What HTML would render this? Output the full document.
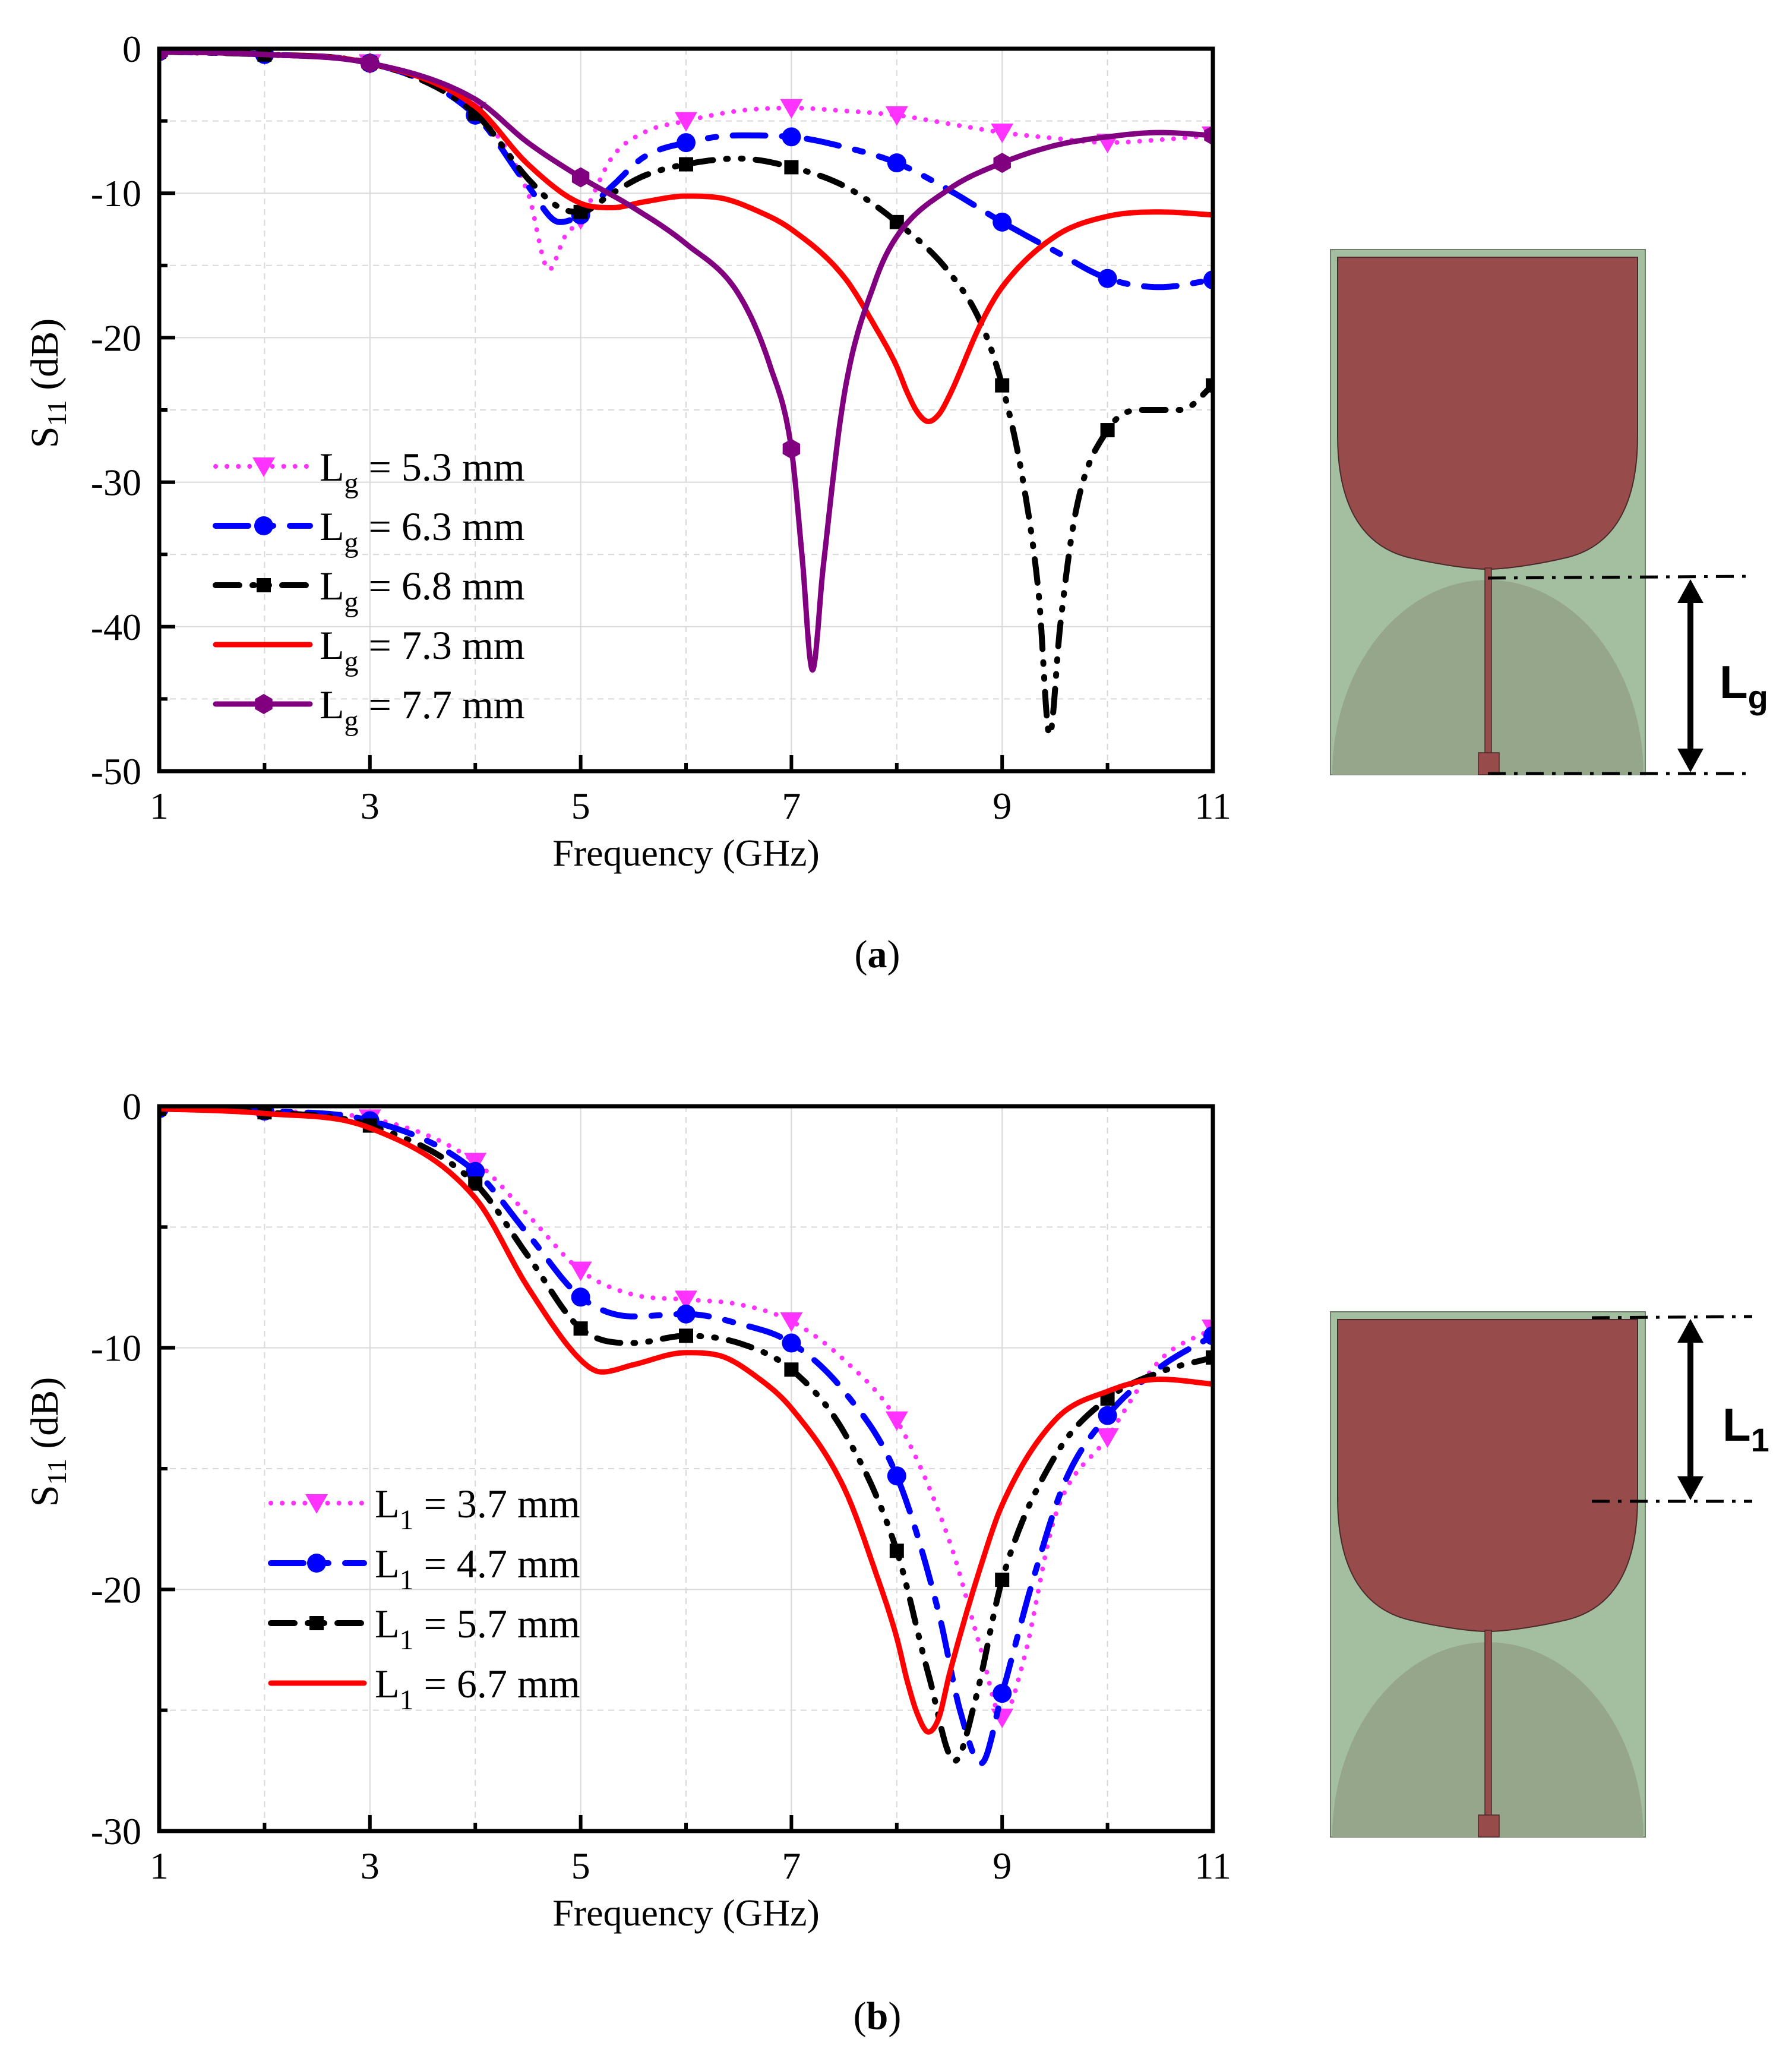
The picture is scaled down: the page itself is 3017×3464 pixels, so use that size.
<!DOCTYPE html>
<html><head><meta charset="utf-8">
<style>
html,body{margin:0;padding:0;background:#fff;}
svg{display:block;}
text{font-family:"Liberation Serif",serif;fill:#000;}
.sans{font-family:"Liberation Sans",sans-serif;font-weight:bold;}
</style></head>
<body>
<svg id="fig" width="3017" height="3464" viewBox="0 0 3017 3464" xmlns="http://www.w3.org/2000/svg">
<defs>
<clipPath id="clipA"><rect x="268" y="82" width="1774" height="1216"/></clipPath>
<clipPath id="clipB"><rect x="268" y="1862" width="1774" height="1220"/></clipPath>
<g id="antenna">
<rect x="0" y="0" width="530" height="884" fill="#a3bfa0" stroke="#6d7f69" stroke-width="2"/>
<path d="M3,884 A262,328 0 0 1 527,884 Z" fill="#96a68a"/>
<path d="M12,13 H517 V313 C517,440 470,500 400,518 C350,530 300,537 270,538 H260 C230,537 180,530 130,518 C60,500 12,440 12,313 Z" fill="#984b4b" stroke="#4a2a2a" stroke-width="2"/>
<rect x="260" y="536" width="11" height="312" fill="#984b4b" stroke="#4a2a2a" stroke-width="1.5"/>
<rect x="249" y="847" width="35" height="37" fill="#984b4b" stroke="#4a2a2a" stroke-width="1.5"/>
</g>
</defs>
<g id="chartA"></g>
<g id="chartB"></g>

<g>
<use href="#antenna" x="2240" y="420"/>
<line x1="2505" y1="973" x2="2950" y2="970" stroke="#000" stroke-width="5" stroke-dasharray="30 14 6 14"/>
<line x1="2505" y1="1302" x2="2950" y2="1302" stroke="#000" stroke-width="5" stroke-dasharray="30 14 6 14"/>
<line x1="2846" y1="1010" x2="2846" y2="1265" stroke="#000" stroke-width="10"/>
<polygon points="2846,975 2824,1015 2868,1015" fill="#000"/>
<polygon points="2846,1300 2824,1260 2868,1260" fill="#000"/>
<text x="2895" y="1175" class="sans" font-size="78">L<tspan font-size="56" dy="18">g</tspan></text>
</g>
<g>
<use href="#antenna" x="2240" y="2208"/>
<line x1="2680" y1="2218" x2="2950" y2="2216" stroke="#000" stroke-width="5" stroke-dasharray="30 14 6 14"/>
<line x1="2680" y1="2527" x2="2950" y2="2527" stroke="#000" stroke-width="5" stroke-dasharray="30 14 6 14"/>
<line x1="2846" y1="2255" x2="2846" y2="2490" stroke="#000" stroke-width="10"/>
<polygon points="2846,2220 2824,2260 2868,2260" fill="#000"/>
<polygon points="2846,2525 2824,2485 2868,2485" fill="#000"/>
<text x="2900" y="2425" class="sans" font-size="78">L<tspan font-size="56" dy="18">1</tspan></text>
</g>

<text x="1477" y="1628" font-size="66" text-anchor="middle">(<tspan font-weight="bold">a</tspan>)</text>
<text x="1477" y="3415" font-size="66" text-anchor="middle">(<tspan font-weight="bold">b</tspan>)</text>
</svg>
<script>
// ---- data: chart a ----
const aX1 = [1,2,3,4,4.5,4.7,4.85,5,5.3,5.6,6,6.5,7,7.5,8,8.5,9,9.5,10,10.5,11];
const aY1 = [-0.2,-0.4,-1,-4.3,-10,-15.3,-13,-11.8,-7.5,-5.8,-5,-4.3,-4.1,-4.3,-4.6,-5.2,-5.8,-6.2,-6.5,-6.3,-6];
const aX2 = [1,2,3,4,4.5,4.8,5,5.3,5.6,6,6.5,7,7.5,8,8.5,9,9.5,10,10.5,11];
const aY2 = [-0.2,-0.4,-1,-4.6,-9.5,-12,-11.5,-9.5,-7.5,-6.5,-6,-6.1,-6.8,-7.9,-9.8,-12,-14,-15.9,-16.5,-16];
const aX3 = [1,2,3,4,4.5,4.8,5,5.3,5.6,6,6.5,7,7.5,8,8.5,8.8,9,9.2,9.35,9.45,9.55,9.7,10,10.3,10.7,11];
const aY3 = [-0.2,-0.4,-1,-4.5,-9,-11,-11.3,-10,-8.8,-8,-7.6,-8.2,-9.5,-12,-15.5,-19,-23.3,-30,-38,-47.5,-40,-32,-26.4,-25,-25,-23.3];
const aX4 = [1,2,3,4,4.5,5,5.3,5.6,6,6.3,6.7,7,7.5,7.8,8,8.1,8.2,8.3,8.4,8.5,8.8,9,9.5,10,10.5,11];
const aY4 = [-0.2,-0.4,-1,-4,-8,-10.7,-11,-10.6,-10.2,-10.3,-11.3,-12.5,-15.8,-19.3,-22,-23.8,-25.2,-25.8,-25.3,-24,-19,-16.5,-13,-11.6,-11.3,-11.5];
const aX5 = [1,2,3,4,4.5,5,5.5,6,6.5,6.8,7,7.1,7.2,7.3,7.5,7.8,8,8.5,9,9.5,10,10.5,11];
const aY5 = [-0.2,-0.4,-1,-3.5,-6.5,-8.9,-11,-13.5,-17,-22,-27.7,-35,-43,-36,-24,-16,-13,-9.7,-7.9,-6.7,-6.1,-5.8,-6];
const aLabels = ["5.3","6.3","6.8","7.3","7.7"];
const aYTicks = [0,-10,-20,-30,-40,-50];
// ---- data: chart b ----
const bX1 = [1,2,3,4,4.5,5,5.5,6,6.5,7,7.5,8,8.5,8.8,9,9.2,9.5,10,10.5,11];
const bY1 = [-0.1,-0.2,-0.5,-2.3,-4.5,-6.8,-7.8,-8,-8.2,-8.9,-10.5,-13,-18,-22.5,-25.3,-23,-17,-13.7,-10.5,-9.2];
const bX2 = [1,2,3,4,4.5,5,5.5,6,6.5,7,7.5,8,8.4,8.6,8.8,9,9.3,9.6,10,10.5,11];
const bY2 = [-0.1,-0.2,-0.6,-2.7,-5.3,-7.9,-8.7,-8.6,-9,-9.8,-11.8,-15.3,-21,-25,-27.2,-24.3,-19.5,-15.5,-12.8,-10.8,-9.5];
const bX3 = [1,2,3,4,4.5,5,5.5,6,6.5,7,7.5,8,8.3,8.55,8.75,9,9.5,10,10.5,11];
const bY3 = [-0.1,-0.25,-0.8,-3.2,-6.2,-9.2,-9.8,-9.5,-9.8,-10.9,-13.5,-18.4,-23.5,-27.1,-24.5,-19.6,-14.5,-12.1,-11,-10.4];
const bX4 = [1,2,3,4,4.5,5,5.2,5.5,6,6.3,6.7,7,7.5,7.8,8,8.1,8.2,8.3,8.4,8.5,8.8,9,9.5,10,10.5,11];
const bY4 = [-0.1,-0.3,-0.9,-3.8,-7.5,-10.5,-11,-10.7,-10.2,-10.3,-11.3,-12.5,-15.8,-19.3,-22,-23.8,-25.2,-25.9,-25.3,-23.5,-19,-16.5,-13,-11.8,-11.3,-11.5];
const bLabels = ["3.7","4.7","5.7","6.7"];
const bYTicks = [0,-10,-20,-30];
const xTickLabels = [1,3,5,7,9,11];

const NS = "http://www.w3.org/2000/svg";
function mk(tag, attrs, parent){const e=document.createElementNS(NS,tag);for(const k in attrs)e.setAttribute(k,attrs[k]);parent.appendChild(e);return e;}

function monotone(xs, ys){
  const n=xs.length, d=[], m=new Array(n);
  for(let i=0;i<n-1;i++) d.push((ys[i+1]-ys[i])/(xs[i+1]-xs[i]));
  m[0]=d[0]; m[n-1]=d[n-2];
  for(let i=1;i<n-1;i++){ m[i]=(d[i-1]*d[i]<=0)?0:(d[i-1]+d[i])/2; }
  for(let i=0;i<n-1;i++){ if(d[i]===0){m[i]=0;m[i+1]=0;continue;} const a=m[i]/d[i], b=m[i+1]/d[i], s=a*a+b*b; if(s>9){const t=3/Math.sqrt(s); m[i]=t*a*d[i]; m[i+1]=t*b*d[i];} }
  const pts=[];
  for(let i=0;i<n-1;i++){ const h=xs[i+1]-xs[i];
    for(let k=0;k<16;k++){ const t=k/16, t2=t*t, t3=t2*t;
      const y=(2*t3-3*t2+1)*ys[i]+(t3-2*t2+t)*h*m[i]+(-2*t3+3*t2)*ys[i+1]+(t3-t2)*h*m[i+1];
      pts.push([xs[i]+t*h,y]); } }
  pts.push([xs[n-1],ys[n-1]]);
  return pts;
}

function marker(type, cx, cy, color, g){
  let e;
  if(type==="tri"){ e=mk("polygon",{points:`${cx-19},${cy-15} ${cx+19},${cy-15} ${cx},${cy+18}`,fill:color},g); }
  else if(type==="circ"){ e=mk("circle",{cx:cx,cy:cy,r:16,fill:color},g); }
  else if(type==="sq"){ e=mk("rect",{x:cx-12,y:cy-12,width:24,height:24,fill:color},g); }
  else if(type==="hex"){ const p=[];for(let k=0;k<6;k++){const a=Math.PI/3*k+Math.PI/6;p.push((cx+17*Math.cos(a))+","+(cy+17*Math.sin(a)));} e=mk("polygon",{points:p.join(" "),fill:color},g); }
  return e;
}

const styles = [
  {color:"#ff33ff", dash:"0.1 19", cap:"round", w:8, mk:"tri", odd:false},
  {color:"#0000ff", dash:"55 28 14 28", cap:"round", w:10, mk:"circ", odd:false},
  {color:"#000000", dash:"40 22 3 22 3 22", cap:"round", w:10, mk:"sq", odd:false},
  {color:"#ff0000", dash:"", cap:"round", w:9, mk:null, odd:false},
  {color:"#800080", dash:"", cap:"round", w:9, mk:"hex", odd:true}
];

function drawChart(gid, clip, top, bottom, ymin, yticks, series, labels, legend, sym){
  const g=document.getElementById(gid);
  const L=268, R=2042;
  const sx=v=>L+(v-1)/10*(R-L);
  const sy=v=>top+(0-v)/(0-ymin)*(bottom-top);
  for(let f=2; f<=10; f++){
    const gl=mk("line",{x1:sx(f),y1:top,x2:sx(f),y2:bottom,stroke:"#d9d9d9","stroke-width":2,"stroke-dasharray":f%2?"":"10 8"},g);
    
    
  }
  for(let v=-5; v>ymin; v-=5){
    const gl=mk("line",{x1:L,y1:sy(v),x2:R,y2:sy(v),stroke:"#d9d9d9","stroke-width":2,"stroke-dasharray":(v%10===0)?"":"10 8"},g);
    
    
  }
  const sg=mk("g",{"clip-path":`url(#${clip})`},g);
  series.forEach((s,i)=>{
    const st=styles[s.style];
    const pts=monotone(s.x,s.y);
    const d=pts.map((p,k)=>(k?"L":"M")+sx(p[0]).toFixed(1)+","+sy(p[1]).toFixed(1)).join("");
    const path=mk("path",{d:d,fill:"none",stroke:st.color,"stroke-width":st.w,"stroke-linecap":st.cap,"stroke-linejoin":"round"},sg);
    if(st.dash) path.setAttribute("stroke-dasharray",st.dash);
    
    
    if(st.mk){
      s.x.forEach((xv,k)=>{ if(Number.isInteger(xv) && (!st.odd || xv%2===1)){
        const m=marker(st.mk,sx(xv),sy(s.y[k]),st.color,sg);
        
        
      }});
    }
  });
  const fr=mk("rect",{x:L,y:top,width:R-L,height:bottom-top,fill:"none",stroke:"#000","stroke-width":7},g);
  
  
  for(let f=2; f<=10; f++){
    const len=f%2?27:14;
    mk("line",{x1:sx(f),y1:bottom,x2:sx(f),y2:bottom-len,stroke:"#000","stroke-width":6},g);
  }
  for(let v=-5; v>ymin; v-=5){
    const len=(v%10===0)?27:14;
    mk("line",{x1:L,y1:sy(v),x2:L+len,y2:sy(v),stroke:"#000","stroke-width":6},g);
  }
  xTickLabels.forEach(v=>{
    const t=mk("text",{x:sx(v),y:bottom+80,"font-size":64,"text-anchor":"middle"},g);
    t.textContent=v;
    
    
  });
  yticks.forEach(v=>{
    const t=mk("text",{x:238,y:sy(v)+22,"font-size":64,"text-anchor":"end"},g);
    t.textContent=v;
    
    
  });
  const xt=mk("text",{x:(L+R)/2,y:bottom+159,"font-size":64,"text-anchor":"middle"},g);
  xt.textContent="Frequency (GHz)";
  
  
  const cy=(top+bottom)/2-45;
  const yt=mk("text",{x:0,y:0,"font-size":66,"text-anchor":"middle",transform:`translate(97,${cy}) rotate(-90)`},g);
  yt.innerHTML='S<tspan font-size="46" dy="14">11</tspan><tspan dy="-14"> (dB)</tspan>';
  
  
  series.forEach((s,i)=>{
    const st=styles[s.style];
    const ly=legend.y0+i*legend.dy;
    const lg=mk("g",{},g);
    
    
    const ln=mk("line",{x1:legend.x1,y1:ly,x2:legend.x2,y2:ly,stroke:st.color,"stroke-width":st.w,"stroke-linecap":st.cap},lg);
    if(st.dash) ln.setAttribute("stroke-dasharray",st.dash);
    if(st.mk) marker(st.mk,legend.mx,ly,st.color,lg);
    const t=mk("text",{x:legend.tx,y:ly+24,"font-size":68},lg);
    t.innerHTML='L<tspan font-size="48" dy="20">'+sym+'</tspan><tspan dy="-20"> = '+labels[i]+' mm</tspan>';
  });
}

drawChart("chartA","clipA",82,1298,-50,aYTicks,
  [{x:aX1,y:aY1,style:0},{x:aX2,y:aY2,style:1},{x:aX3,y:aY3,style:2},{x:aX4,y:aY4,style:3},{x:aX5,y:aY5,style:4}],
  aLabels,{y0:785,dy:100,x1:363,x2:522,mx:444,tx:538},"g");
drawChart("chartB","clipB",1862,3082,-30,bYTicks,
  [{x:bX1,y:bY1,style:0},{x:bX2,y:bY2,style:1},{x:bX3,y:bY3,style:2},{x:bX4,y:bY4,style:3}],
  bLabels,{y0:2530,dy:101,x1:456,x2:613,mx:533,tx:631},"1");
</script>
</body></html>
